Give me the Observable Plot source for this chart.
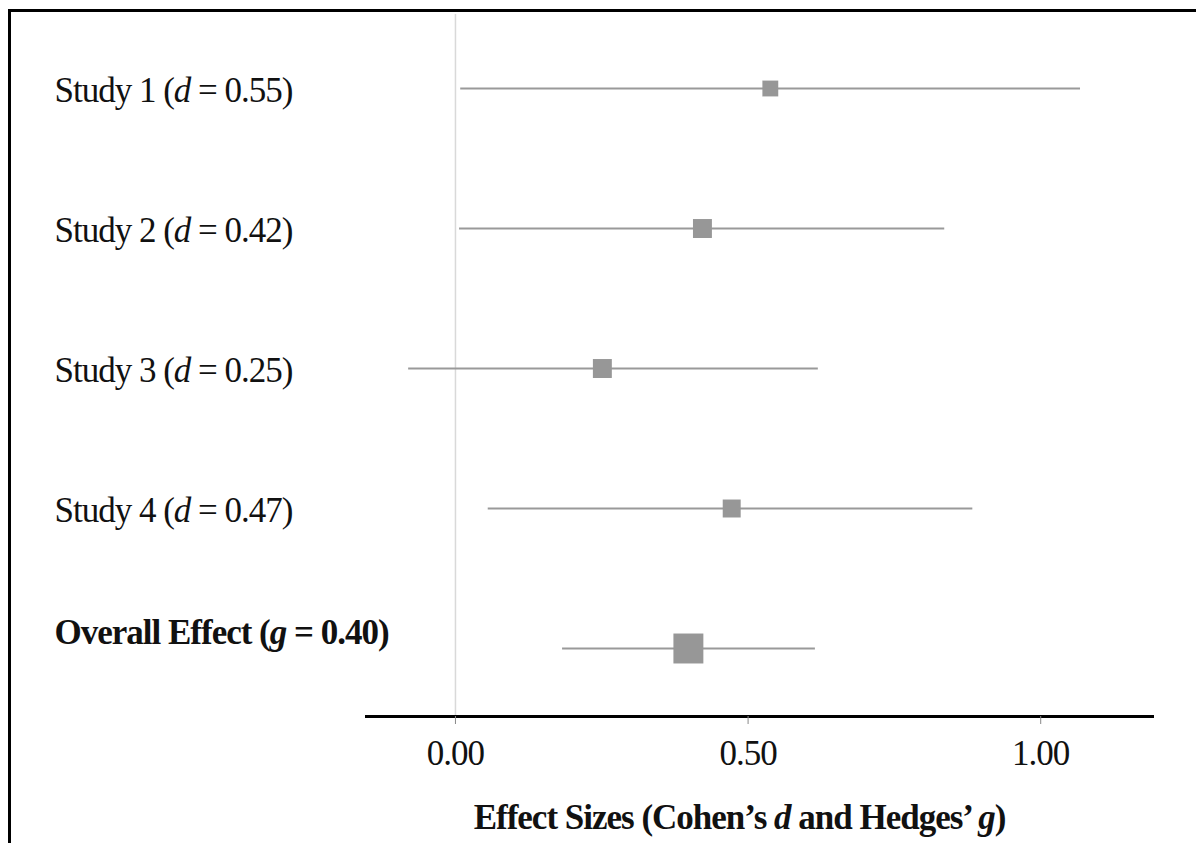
<!DOCTYPE html>
<html>
<head>
<meta charset="utf-8">
<script src="https://cdn.jsdelivr.net/npm/d3@7"></script>
<script src="https://cdn.jsdelivr.net/npm/@observablehq/plot@0.6"></script>
<style>
  html, body { margin: 0; padding: 0; background: #fff; overflow: hidden; width: 1196px; height: 843px; }
  #wrap { position: relative; width: 1196px; height: 843px; }
  #border { position: absolute; left: 8px; top: 9px; width: 1300px; height: 1000px;
            border-top: 3px solid #000; border-left: 3px solid #000; pointer-events: none; }
  svg { display: block; }
</style>
</head>
<body>
<div id="wrap"><div id="chart"></div><div id="border"></div></div>
<script>
const studies = ["Study 1 (d = 0.55)", "Study 2 (d = 0.42)", "Study 3 (d = 0.25)", "Study 4 (d = 0.47)", "Overall Effect (g = 0.40)"];
const estimates = [0.538, 0.422, 0.251, 0.472, 0.398];
const lower = [0.009, 0.007, -0.080, 0.056, 0.183];
const upper = [1.068, 0.836, 0.620, 0.884, 0.615];
const weights = [28, 40, 40, 36, 100];
const xTicks = [0, 0.5, 1];
const xTitle = "Effect Sizes (Cohen’s d and Hedges’ g)";

const rows = studies.map((label, i) => ({label, est: estimates[i], lo: lower[i], hi: upper[i], w: weights[i], overall: i === studies.length - 1}));
const serif = "'Liberation Serif', 'Times New Roman', Times, serif";

const chart = Plot.plot({
  width: 1196,
  height: 843,
  marginLeft: 366,
  marginRight: 44,
  marginTop: 14,
  marginBottom: 127,
  style: {fontFamily: serif, background: "#fff", color: "#111", letterSpacing: "-1px"},
  x: {domain: [-0.152, 1.191]},
  y: {type: "point", domain: studies, range: [86, 649], padding: 0, axis: null},
  r: {type: "sqrt", domain: [0, 100], range: [0, 16.9]},
  marks: [
    Plot.ruleX([0], {stroke: "#d9d9d9", strokeWidth: 1.5}),
    Plot.frame({anchor: "bottom", stroke: "#000", strokeWidth: 3}),
    Plot.axisX({ticks: xTicks, tickFormat: d3.format(".2f"), tickSize: 8, tickPadding: 16, stroke: "#888", fontSize: 35, label: null, fill: "#111"}),
    Plot.ruleY(rows, {y: "label", x1: "lo", x2: "hi", stroke: "#999", strokeWidth: 2}),
    Plot.dot(rows, {x: "est", y: "label", r: "w", symbol: "square", fill: "#979797", stroke: null}),
    Plot.text(rows.filter(d => !d.overall), {y: "label", text: "label", frameAnchor: "left", textAnchor: "start", dx: -312, dy: 2, fontSize: 35, fill: "#111"}),
    Plot.text(rows.filter(d => d.overall), {y: "label", text: "label", frameAnchor: "left", textAnchor: "start", dx: -312, dy: -16, fontSize: 35, fontWeight: "bold", fill: "#111"}),
    Plot.text([xTitle], {frameAnchor: "bottom", dx: -20, dy: 112, lineAnchor: "bottom", fontSize: 35, fontWeight: "bold", fill: "#111"})
  ]
});

// italicize the statistic symbols d and g
chart.querySelectorAll("text").forEach(t => {
  if (t.querySelector("tspan")) return;
  const s = t.textContent;
  const parts = s.split(/(?<=[(\s])([dg])(?=[\s)])/);
  if (parts.length < 2) return;
  t.textContent = "";
  parts.forEach((p, i) => {
    const ts = document.createElementNS("http://www.w3.org/2000/svg", "tspan");
    ts.textContent = p;
    if (i % 2 === 1) ts.setAttribute("font-style", "italic");
    t.appendChild(ts);
  });
});

document.getElementById("chart").appendChild(chart);
</script>
</body>
</html>
